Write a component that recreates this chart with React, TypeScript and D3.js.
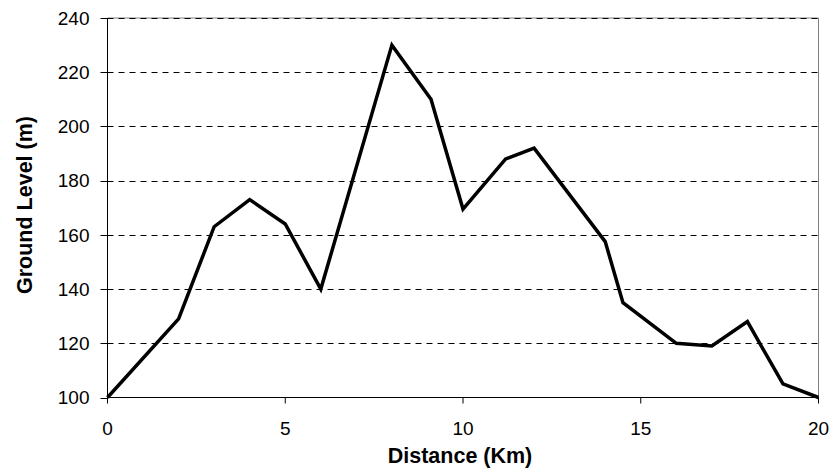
import React from "react";
import * as d3 from "d3";

const distanceKm = [0, 2, 3, 4, 5, 6, 8, 9.1, 10, 11.2, 12, 14, 14.5, 16, 17, 18, 19, 20];
const groundLevel = [100, 129, 163, 173, 164, 140, 230, 210, 169.5, 188, 192, 157.5, 135, 120, 119, 128, 105, 100];
const xTicks = [0, 5, 10, 15, 20];
const yTicks = [100, 120, 140, 160, 180, 200, 220, 240];

const W = 832;
const H = 471;
const M = { left: 107.5, right: 818.5, top: 18, bottom: 397.5 };

export default function App() {
  const x = d3.scaleLinear().domain([0, 20]).range([M.left, M.right]);
  const y = d3.scaleLinear().domain([100, 240]).range([M.bottom, M.top]);
  const pts = distanceKm.map((d, i) => [d, groundLevel[i]] as [number, number]);
  const line = d3
    .line<[number, number]>()
    .x((d) => x(d[0]))
    .y((d) => y(d[1]));
  const font = "Arial, 'Liberation Sans', sans-serif";

  return (
    <svg
      width={W}
      height={H}
      style={{ position: "absolute", left: 0, top: 0, background: "#fff" }}
      fontFamily={font}
    >
      {/* plot area border (grey) */}
      <line x1={M.left} x2={M.right} y1={M.top} y2={M.top} stroke="#808080" strokeWidth={1} />
      <line x1={M.right} x2={M.right} y1={M.top} y2={M.bottom} stroke="#808080" strokeWidth={1} />
      {/* gridlines */}
      {yTicks
        .filter((t) => t !== 100)
        .map((t) => (
          <line
            key={"g" + t}
            x1={M.left}
            x2={M.right}
            y1={Math.round(y(t)) + 0.5}
            y2={Math.round(y(t)) + 0.5}
            stroke="#000"
            strokeWidth={1}
            strokeDasharray="6,5"
          />
        ))}
      {/* axes */}
      <line x1={M.left} x2={M.left} y1={M.top} y2={M.bottom} stroke="#000" strokeWidth={1} />
      <line x1={M.left} x2={M.right} y1={M.bottom} y2={M.bottom} stroke="#000" strokeWidth={1} />
      {yTicks.map((t) => (
        <g key={"y" + t}>
          <line
            x1={M.left - 7}
            x2={M.left}
            y1={Math.round(y(t)) + 0.5}
            y2={Math.round(y(t)) + 0.5}
            stroke="#000"
          />
          <text x={89.5} y={y(t)} dy="0.36em" textAnchor="end" fontSize={19}>
            {t}
          </text>
        </g>
      ))}
      {xTicks.map((t) => (
        <g key={"x" + t}>
          <line x1={x(t)} x2={x(t)} y1={M.bottom} y2={M.bottom + 6} stroke="#000" />
          <text x={x(t)} y={435} textAnchor="middle" fontSize={19}>
            {t}
          </text>
        </g>
      ))}
      <path d={line(pts) || ""} fill="none" stroke="#000" strokeWidth={3.5} strokeLinejoin="miter" />
      <text x={460} y={463} textAnchor="middle" fontSize={21.5} fontWeight="bold">
        Distance (Km)
      </text>
      <text
        transform={`translate(32,205) rotate(-90)`}
        textAnchor="middle"
        fontSize={21.5}
        fontWeight="bold"
      >
        Ground Level (m)
      </text>
    </svg>
  );
}
